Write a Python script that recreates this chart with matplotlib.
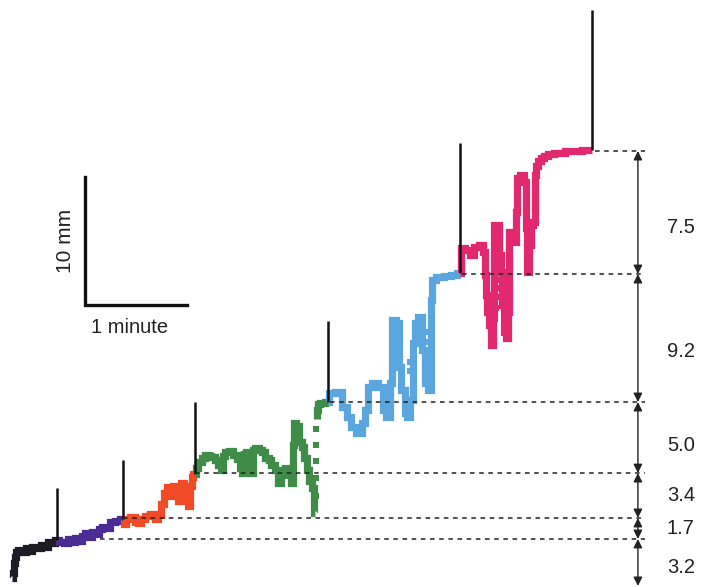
import matplotlib
matplotlib.use('Agg')
import matplotlib.pyplot as plt

plt.rcParams['font.family'] = ['Liberation Sans', 'DejaVu Sans']

# ---- data: time (s) and height (mm) of each trace segment ----
black_t = [0, 0.6, 1.2, 1.8, 2.9, 4.7, 7, 9, 10.6, 13, 16.5, 18, 20, 22.4, 24, 26.5]
black_h = [0.4, 0.8, 1.6, 2.0, 2.4, 2.6, 2.4, 2.7, 2.5, 2.8, 2.7, 3.0, 2.8, 3.2, 3.1, 3.35]

purple_t = [26.5, 29, 32.4, 34, 36, 38.2, 40, 42, 44.1, 46, 48, 50, 52, 53.5, 56, 59.4, 62, 65.3]
purple_h = [3.35, 3.2, 3.1, 3.4, 3.2, 3.5, 3.3, 3.7, 3.9, 3.6, 4.0, 3.8, 4.2, 4.4, 4.3, 4.8, 4.85, 5.0]

red_t = [65.3, 66.5, 68, 71.2, 73, 75, 77.1, 79, 82.9, 85, 87, 88.8, 90, 92.9, 94, 95.5,
         97.1, 98.5, 100.6, 102, 104.7, 105.3, 105.9, 107.6]
red_h = [5.0, 4.6, 5.0, 5.15, 4.8, 4.7, 5.0, 5.2, 5.4, 5.0, 5.3, 6.2, 7.0, 7.5, 6.8, 7.6,
         7.3, 6.4, 7.8, 7.2, 6.0, 7.6, 8.3, 8.55]

green_t = [107.6, 108.5, 110.6, 112.5, 114.7, 116.5, 118.2, 120.5, 122, 123.5, 124.5, 126.5,
           129, 131.2, 133, 135, 135.9, 136.8, 138.2, 140, 141.2, 142.2, 144.1, 146, 147.6,
           150, 151.8, 153.5, 155.9, 157.6, 159, 161.8, 163, 164.7, 165.5, 166.5, 167.5,
           168.2, 169.5, 171.2, 172.5, 174.1, 175.5, 177.1, 178.2]
green_h = [8.55, 9.0, 9.45, 9.8, 10.0, 9.9, 9.85, 9.6, 9.2, 8.85, 9.9, 10.2,
           10.3, 10.0, 9.7, 9.0, 8.6, 10.1, 10.2, 9.6, 8.6, 10.4, 10.55, 10.4, 10.2,
           9.8, 9.6, 9.2, 8.8, 7.8, 8.5, 9.0, 8.4, 7.8, 10.8, 12.5, 12.2,
           12.3, 11.0, 10.6, 9.8, 8.8, 8.0, 7.4, 5.5]
green_fast_t = [178.8, 178.8, 178.8, 178.8, 178.8]
green_fast_h = [6.8, 8.2, 9.5, 10.8, 12.0]
green2_t = [179.4, 179.4, 180.5, 182, 185.9]
green2_h = [12.8, 13.5, 14.0, 14.1, 14.14]

blue_t = [185.9, 187.1, 192.9, 195.9, 198.8, 200.6, 204.7, 206.5, 208.8, 210.6, 213.5, 217.6,
          219.4, 221.2, 223.5, 224.1, 227.1, 228.2, 230.0, 232.4, 232.9, 235.3, 235.9,
          238.2, 240.0, 241.8, 244.1, 245.9, 246.5, 247.6, 251.8, 256.0, 260.0, 263.5]
blue_h = [14.14, 14.84, 14.92, 13.75, 12.97, 12.19, 11.72, 12.5, 13.52, 15.31, 15.63, 15.31,
          13.52, 12.97, 15.63, 20.55, 20.31, 16.88, 15.08, 13.28, 12.97, 14.3, 18.75,
          20.31, 20.78, 18.2, 15.63, 15.08, 22.1, 23.67, 23.91, 24.0, 24.1, 24.2]
blue_fast_t = [227.6, 227.6, 234.1, 234.1, 244.7, 244.7]
blue_fast_h = [18.83, 17.27, 17.27, 16.6, 19.6, 18.83]

pink_t = [263.5, 264.7, 268.2, 271.2, 272.4, 276.5, 278.2, 278.8, 279.4, 280.0, 281.2, 282.4,
          283.5, 284.1, 285.9, 287.1, 288.2, 288.8, 290.0, 291.2, 291.8, 292.4, 292.9,
          294.7, 295.9, 297.1, 297.6, 300.0, 301.8, 302.4, 302.9, 303.5, 304.7, 305.9,
          307.6, 308.2, 308.8, 310.0, 311.8, 314.0, 316.5, 320.6, 330.0, 341.2]
pink_h = [24.2, 26.17, 26.02, 25.63, 26.25, 26.41, 25.86, 24.06, 22.5, 21.17, 20.16, 18.59,
          20.7, 27.97, 27.97, 25.63, 24.3, 21.72, 19.61, 19.14, 21.17, 23.83, 27.42,
          27.19, 26.64, 28.98, 31.64, 31.88, 31.33, 29.77, 27.73, 24.3, 26.41, 27.97,
          28.2, 31.9, 32.6, 32.95, 33.2, 33.38, 33.52, 33.6, 33.72, 33.83]
pink_fast_t = [285.0, 285.0, 285.0, 285.0, 291.2, 291.2, 291.2, 302.4, 302.4, 302.4, 302.4,
               307.6, 307.6, 307.6]
pink_fast_h = [23.67, 23.05, 22.34, 21.48, 23.44, 22.73, 22.27, 30.94, 30.31, 28.98, 28.13,
               31.64, 30.86, 29.3]

# stimulus markers (time, base, top) in s / mm
stim_t = [26.5, 65.3, 107.6, 185.9, 263.5, 341.2]
stim_base = [3.35, 5.0, 8.55, 14.14, 24.2, 33.83]
stim_top = [7.42, 9.61, 14.14, 20.47, 34.38, 44.77]

# plateau levels (mm) and where the dotted guide lines start (s)
level_h = [-0.23, 3.44, 5.08, 8.59, 14.14, 24.14, 33.75]
level_start = [None, 51.8, 65.3, 107.6, 187.0, 265.0, 343.0]
level_labels = ['3.2', '1.7', '3.4', '5.0', '9.2', '7.5']
label_h = [1.25, 4.22, 6.80, 10.78, 18.05, 27.81]

colors = {'black': '#1d1b24', 'purple': '#4b2b94', 'red': '#f04a26',
          'green': '#3e8c48', 'blue': '#5ba6de', 'pink': '#e2296f'}

fig = plt.figure(figsize=(7.02, 5.87), dpi=100)
ax = fig.add_axes([0, 0, 1, 1])
ax.set_xlim(-7.06, 405.9)
ax.set_ylim(-0.3125, 45.55)
ax.axis('off')

kw = dict(lw=5.2, solid_joinstyle='miter', solid_capstyle='butt', drawstyle='steps-mid')
dot = dict(marker='s', ms=4.0, mew=0, ls='none')
ax.plot(black_t, black_h, color=colors['black'], **kw)
ax.plot(purple_t, purple_h, color=colors['purple'], **kw)
ax.plot(red_t, red_h, color=colors['red'], **kw)
ax.plot(green_t, green_h, color=colors['green'], **kw)
ax.plot(green2_t, green2_h, color=colors['green'], **kw)
ax.plot(green_fast_t, green_fast_h, color=colors['green'], **dot)
ax.plot(blue_t, blue_h, color=colors['blue'], **kw)
ax.plot(blue_fast_t, blue_fast_h, color=colors['blue'], **dot)
ax.plot(pink_t, pink_h, color=colors['pink'], **kw)
ax.plot(pink_fast_t, pink_fast_h, color=colors['pink'], **dot)

# stimulus markers
ax.vlines(stim_t, stim_base, stim_top, color='#111111', lw=1.8)

# dotted guide lines
line_end = 372.4
for h, s in zip(level_h, level_start):
    if s is not None:
        ax.plot([s, line_end], [h, h], color='#222222', lw=1.1, ls=(0, (3, 3)))

# double-headed arrows and labels
arrow_t = 368.2
label_t = 385.3
for i, lab in enumerate(level_labels):
    lo, hi = level_h[i], level_h[i + 1]
    ax.annotate('', xy=(arrow_t, hi), xytext=(arrow_t, lo),
                arrowprops=dict(arrowstyle='<|-|>', color='#222222', lw=1.0,
                                mutation_scale=13, shrinkA=0, shrinkB=0))
    ax.text(label_t, label_h[i], lab, fontsize=14.5, ha='left', va='center',
            color='#222222')

# scale bar: 10 mm by 1 minute
sb_t0, sb_h0 = 42.9, 21.72
ax.plot([sb_t0, sb_t0, sb_t0 + 60], [sb_h0 + 10, sb_h0, sb_h0], color='#111111', lw=2.4,
        solid_joinstyle='miter')
ax.text(31.3, 26.72, '10 mm', rotation=90, fontsize=15, ha='center',
        va='center', color='#222222')
ax.text(69.4, 20.0, '1 minute', fontsize=14.5, ha='center', va='center',
        color='#222222')

fig.savefig('out.png', dpi=100)
